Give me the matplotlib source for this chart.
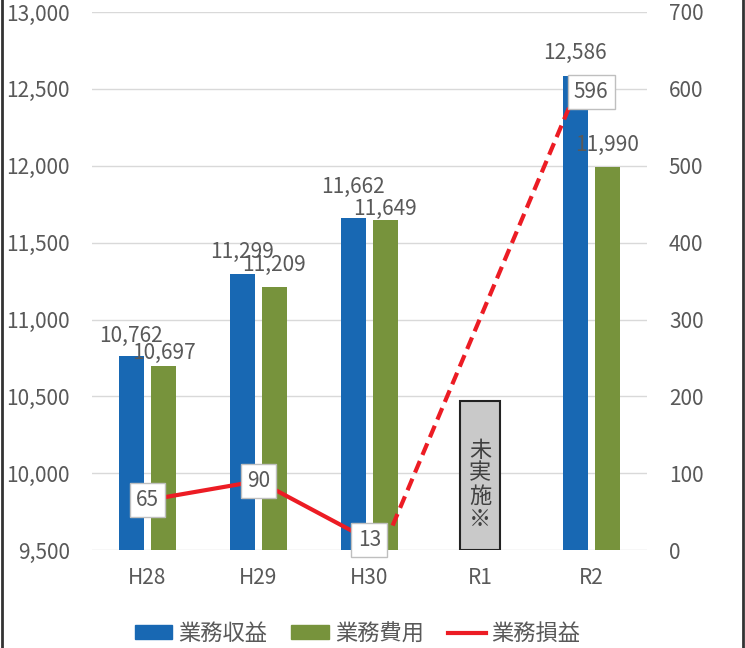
import matplotlib.pyplot as plt
import matplotlib.lines as mlines
import matplotlib.patches as mpatches
import numpy as np

plt.rcParams['font.family'] = ['Noto Sans CJK JP', 'DejaVu Sans']

years = ['H28', 'H29', 'H30', 'R1', 'R2']
revenue = [10762, 11299, 11662, np.nan, 12586]   # 業務収益
cost = [10697, 11209, 11649, np.nan, 11990]      # 業務費用
profit = [65, 90, 13, np.nan, 596]               # 業務損益
# dashed connector H30 -> R2 (as drawn in the picture)
dash_x = [2.21, 3.86]
dash_y = [32, 596]
# "not carried out" box for R1
na_idx = 3
na_top = 10470

# label offsets above bar tops (pixels), as Excel placed them
rev_off = [20, 22, 31, 0, 23]
cost_off = [13, 22, 11, 0, 22]

blue = '#1868B3'
green = '#77933C'
red = '#EC1C24'
txt = '#595959'

fig = plt.figure(figsize=(7.45, 6.48), dpi=100)
ax = fig.add_axes([0.1235, 0.151, 0.7445, 0.8305])
ax2 = ax.twinx()

x = np.arange(len(years))
w = 0.225
off = 0.145
ax.bar(x - off, revenue, w, color=blue, zorder=2)
ax.bar(x + off, cost, w, color=green, zorder=2)

for i in range(len(years)):
    if not np.isnan(revenue[i]):
        ax.annotate(f'{revenue[i]:,.0f}', (x[i] - off, revenue[i]), xytext=(0, rev_off[i]),
                    textcoords='offset pixels', ha='center', va='center',
                    fontsize=15, color=txt, zorder=5)
        ax.annotate(f'{cost[i]:,.0f}', (x[i] + off, cost[i]), xytext=(0, cost_off[i]),
                    textcoords='offset pixels', ha='center', va='center',
                    fontsize=15, color=txt, zorder=5)

# R1 box
ax.bar(x[na_idx], na_top - 9500, 0.36, bottom=9500, color='#C9C9C9',
       edgecolor='#222222', linewidth=1.5, zorder=2)
ax.text(x[na_idx], 9500 + (na_top - 9500) * 0.44, '未\n実\n施\n※', ha='center',
        va='center', fontsize=16, color='#404040', linespacing=1.0, zorder=3)

ax.set_ylim(9500, 13000)
ax.set_xlim(-0.5, 4.5)
ax.set_yticks(np.arange(9500, 13001, 500))
ax.set_yticklabels([f'{v:,}' for v in range(9500, 13001, 500)])
ax.set_xticks(x)
ax.set_xticklabels(years)
ax.grid(axis='y', color='#D9D9D9', linewidth=1, zorder=0)
ax.set_axisbelow(True)

# profit line
ax2.plot(x[:3], profit[:3], color=red, linewidth=3, zorder=3)
ax2.plot(dash_x, dash_y, color=red, linewidth=3, linestyle=(0, (3, 1.6)), zorder=3)
for i in range(len(years)):
    if not np.isnan(profit[i]):
        ax2.text(x[i], profit[i], f'{profit[i]:.0f}', ha='center', va='center',
                 fontsize=15, color=txt, zorder=6,
                 bbox=dict(boxstyle='square,pad=0.3', fc='white', ec='#BFBFBF', lw=1))
ax2.set_ylim(0, 700)
ax2.set_yticks(range(0, 701, 100))

for a in (ax, ax2):
    for s in a.spines.values():
        s.set_visible(False)
    a.tick_params(length=0, labelsize=15, colors=txt)
ax.tick_params(axis='y', pad=16)
ax.tick_params(axis='x', pad=12)
ax2.tick_params(axis='y', pad=16)

handles = [mpatches.Patch(color=blue, label='業務収益'),
           mpatches.Patch(color=green, label='業務費用'),
           mlines.Line2D([], [], color=red, linewidth=3, label='業務損益')]
leg = fig.legend(handles=handles, loc='center', bbox_to_anchor=(0.48, 0.022), ncol=3,
                 frameon=False, fontsize=16, handlelength=1.7, handleheight=0.6,
                 columnspacing=1.1, handletextpad=0.25)
for t in leg.get_texts():
    t.set_color(txt)

# outer border lines
fig.add_artist(mlines.Line2D([0.003, 0.003], [0, 1], color='#333333', linewidth=2))
fig.add_artist(mlines.Line2D([0.997, 0.997], [0, 1], color='#333333', linewidth=2))

fig.savefig('out.png', dpi=100)
